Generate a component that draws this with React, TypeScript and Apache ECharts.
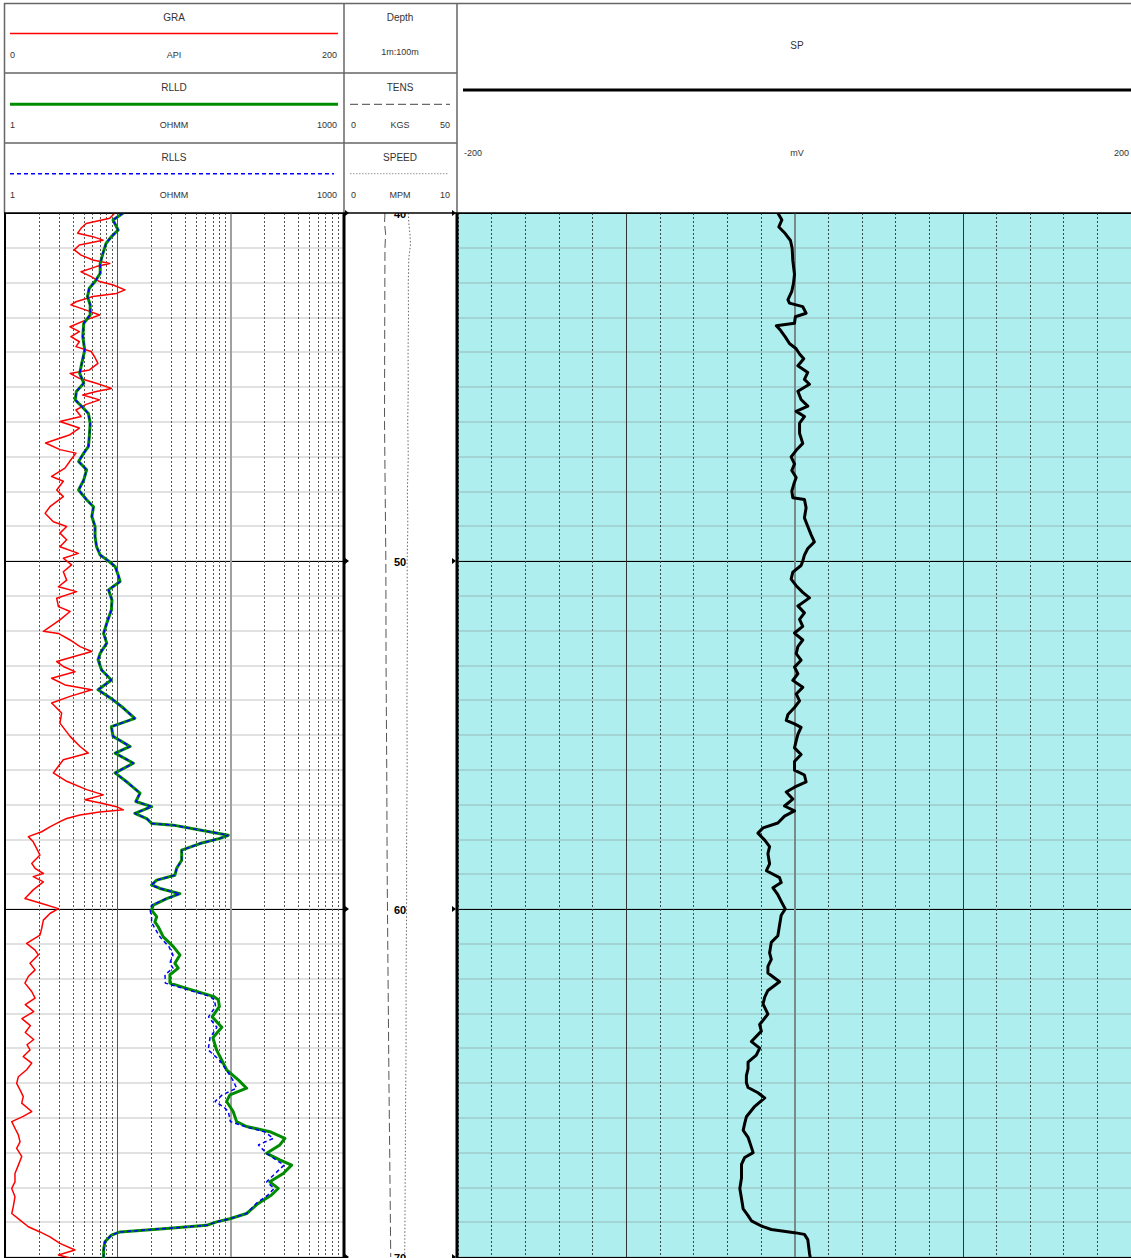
import React, { useEffect, useRef } from 'react';
import * as echarts from 'echarts';

// ---------- data (depth in m, value) ----------
const DEPTH_MIN = 40;
const DEPTH_MAX = 70;
const DEPTH_TICKS = [40, 50, 60, 70];

const GRA_LOG: number[][] = [
  [40.0, 65], [40.15, 62], [40.3, 48], [40.44, 45], [40.58, 43], [40.68, 52], [40.78, 58], [40.92, 44],
  [41.06, 41], [41.21, 45], [41.35, 52], [41.45, 62], [41.54, 54], [41.69, 45], [41.83, 51], [41.97, 56],
  [42.07, 64], [42.21, 71], [42.31, 66], [42.4, 52], [42.55, 42], [42.64, 39], [42.79, 48], [42.93, 56],
  [43.07, 48], [43.27, 38.5], [43.41, 44], [43.55, 39], [43.7, 44], [43.84, 42], [43.98, 51], [44.13, 53],
  [44.32, 55], [44.51, 50], [44.61, 38.5], [44.75, 44], [44.89, 54], [45.04, 63], [45.13, 54], [45.23, 46],
  [45.37, 56], [45.5, 48], [45.66, 42], [45.85, 45], [45.99, 32.5], [46.18, 44], [46.37, 38.5], [46.61, 24],
  [46.8, 32.5], [46.9, 42], [47.09, 39], [47.33, 35.5], [47.57, 27.6], [47.71, 34.5], [47.96, 30.6], [48.15, 34.5],
  [48.44, 26.6], [48.63, 23.7], [48.87, 28.6], [49.01, 36.5], [49.2, 32.5], [49.39, 36.5], [49.59, 32.5], [49.78, 43.4],
  [49.92, 34.5], [50.11, 39.4], [50.31, 34.5], [50.55, 36.5], [50.74, 31.6], [50.88, 42.4], [51.07, 30.6], [51.31, 31.6],
  [51.45, 38.5], [51.69, 32.5], [52.02, 22.7], [52.08, 31.6], [52.27, 38.5], [52.46, 44.4], [52.6, 51.3], [52.75, 40.4],
  [52.89, 30.6], [53.03, 34.5], [53.18, 41.4], [53.37, 27.6], [53.56, 35.5], [53.7, 51.3], [53.89, 38.5], [54.08, 27.6],
  [54.37, 33.5], [54.66, 32.5], [55.04, 38.5], [55.33, 44.4], [55.52, 49.3], [55.71, 34.5], [55.9, 31.6], [56.09, 28.6],
  [56.33, 36.5], [56.57, 48.3], [56.72, 58.2], [56.86, 47.3], [56.97, 58], [57.06, 66], [57.15, 70], [57.21, 56],
  [57.3, 44.4], [57.4, 36.5], [57.49, 32.5], [57.64, 26.6], [57.78, 21.7], [57.92, 13.8], [58.07, 16.7], [58.26, 18.7],
  [58.45, 20.7], [58.69, 15.8], [58.83, 17.8], [58.98, 22.7], [59.07, 16.7], [59.22, 22.7], [59.45, 16.7], [59.7, 11.8],
  [59.84, 21.7], [59.99, 31.6], [60.13, 26.6], [60.32, 22.7], [60.56, 21.7], [60.75, 20.7], [60.99, 12.8], [61.18, 17.8],
  [61.32, 19.7], [61.56, 14.8], [61.75, 17.8], [61.94, 13.8], [62.13, 11.8], [62.37, 15.8], [62.56, 17.8], [62.75, 12],
  [62.95, 17], [63.15, 10], [63.35, 15], [63.55, 12], [63.75, 17], [63.9, 13], [64.05, 14.8], [64.24, 10.8],
  [64.43, 15.8], [64.62, 12.8], [64.82, 7.9], [65.01, 6.9], [65.2, 8.9], [65.39, 10.8], [65.58, 9.9], [65.82, 15.8],
  [65.96, 10.8], [66.11, 4.0], [66.3, 5.9], [66.49, 7.9], [66.69, 8.9], [66.88, 6.9], [67.11, 9.9], [67.36, 7.9],
  [67.6, 5.9], [67.84, 5.9], [68.03, 4.0], [68.27, 5.9], [68.55, 4.9], [68.75, 4.0], [68.94, 8.9], [69.13, 13.8],
  [69.28, 20.7], [69.42, 26.6], [69.61, 32.5], [69.8, 41.4], [69.94, 31.6], [70.03, 38.5],
];

const RLLD_LOG: number[][] = [
  [40.0, 11.2], [40.2, 9.1], [40.49, 10.1], [40.68, 8.8], [40.87, 7.9], [41.16, 7.4], [41.45, 7.0], [41.73, 7.0],
  [41.97, 6.3], [42.16, 5.6], [42.4, 5.4], [42.64, 5.7], [42.93, 5.7], [43.17, 5.0], [43.55, 4.9], [43.94, 5.1],
  [44.32, 4.8], [44.61, 4.6], [44.89, 5.0], [45.13, 4.3], [45.37, 4.2], [45.56, 4.8], [45.76, 5.5], [46.04, 5.7],
  [46.43, 5.6], [46.71, 5.5], [46.9, 5.0], [47.14, 4.5], [47.38, 5.3], [47.67, 5.0], [47.96, 4.5], [48.24, 5.3],
  [48.44, 6.1], [48.72, 5.9], [49.01, 6.3], [49.3, 6.3], [49.59, 6.5], [49.83, 7.0], [50.0, 8.3], [50.16, 9.5],
  [50.4, 10.1], [50.59, 10.5], [50.83, 8.3], [51.12, 8.9], [51.4, 8.8], [51.79, 8.0], [52.08, 7.5], [52.36, 8.0],
  [52.65, 7.0], [52.84, 6.7], [53.13, 7.2], [53.42, 8.8], [53.7, 6.7], [53.99, 9.1], [54.18, 10.8], [54.52, 14.2],
  [54.76, 8.8], [55.04, 9.1], [55.33, 12.9], [55.52, 9.5], [55.81, 13.8], [56.09, 9.5], [56.38, 12.4], [56.67, 15.8],
  [56.91, 14.5], [57.06, 20.0], [57.25, 14.2], [57.4, 18.1], [57.54, 20.0], [57.59, 31.2], [57.73, 53.7], [57.88, 95.9],
  [57.97, 80.9], [58.12, 53.7], [58.31, 37.0], [58.6, 37.0], [58.83, 33.4], [59.03, 32.2], [59.17, 22.2], [59.31, 20.0],
  [59.41, 23.7], [59.56, 35.7], [59.7, 27.2], [59.89, 20.7], [60.03, 20.0], [60.22, 22.2], [60.37, 21.4], [60.51, 22.9],
  [60.8, 25.4], [61.08, 31.2], [61.32, 35.7], [61.56, 32.2], [61.7, 34.5], [61.89, 29.1], [62.13, 29.1], [62.28, 40.9],
  [62.51, 70.6], [62.61, 78.2], [62.8, 80], [63.1, 69], [63.4, 84], [63.7, 70], [64.05, 75.5], [64.34, 83.7],
  [64.62, 92.7], [64.91, 117.6], [65.15, 139.5], [65.34, 99.2], [65.53, 92.7], [65.82, 106], [66.11, 113.7], [66.25, 139.5],
  [66.4, 224], [66.59, 305], [66.78, 275], [67.02, 210], [67.21, 275], [67.36, 350], [67.6, 295], [67.84, 224],
  [68.03, 266], [68.22, 232], [68.46, 177], [68.75, 139.5], [68.9, 99.2], [68.99, 75.5], [69.09, 61.6], [69.18, 27.2],
  [69.28, 10.5], [69.37, 8.8], [69.56, 7.7], [69.8, 7.5], [70.03, 7.5],
];

const RLLS_LOG: number[][] = [
  [40.0, 11.2], [40.2, 9.1], [40.49, 10.1], [40.68, 8.8], [40.87, 7.9], [41.16, 7.4], [41.45, 7.0], [41.73, 7.0],
  [41.97, 6.3], [42.16, 5.6], [42.4, 5.4], [42.64, 5.7], [42.93, 5.7], [43.17, 5.0], [43.55, 4.9], [43.94, 5.1],
  [44.32, 4.8], [44.61, 4.6], [44.89, 5.0], [45.13, 4.3], [45.37, 4.2], [45.56, 4.8], [45.76, 5.5], [46.04, 5.7],
  [46.43, 5.6], [46.71, 5.5], [46.9, 5.0], [47.14, 4.5], [47.38, 5.3], [47.67, 5.0], [47.96, 4.5], [48.24, 5.3],
  [48.44, 6.1], [48.72, 5.9], [49.01, 6.3], [49.3, 6.3], [49.59, 6.5], [49.83, 7.0], [50.0, 8.3], [50.16, 9.5],
  [50.4, 10.1], [50.59, 10.5], [50.83, 8.3], [51.12, 8.9], [51.4, 8.8], [51.79, 8.0], [52.08, 7.5], [52.36, 8.0],
  [52.65, 7.0], [52.84, 6.7], [53.13, 7.2], [53.42, 8.8], [53.7, 6.7], [53.99, 9.1], [54.18, 10.8], [54.52, 14.2],
  [54.76, 8.8], [55.04, 9.1], [55.33, 12.9], [55.52, 9.5], [55.81, 13.8], [56.09, 9.5], [56.38, 12.4], [56.67, 15.8],
  [56.91, 14.5], [57.06, 20.0], [57.25, 14.2], [57.4, 18.1], [57.54, 20.0], [57.59, 31.2], [57.73, 53.7], [57.88, 95.9],
  [57.97, 80.9], [58.12, 53.7], [58.31, 37.0], [58.6, 37.0], [58.83, 33.4], [59.03, 32.2], [59.17, 22.2], [59.31, 20.0],
  [59.41, 23.7], [59.56, 35.7], [59.7, 27.2], [59.89, 20.0], [60.03, 19.4], [60.22, 20.0], [60.37, 20.0], [60.51, 21.0],
  [60.8, 23.7], [61.08, 28.5], [61.32, 31.0], [61.56, 29.0], [61.7, 31.0], [61.89, 26.3], [62.13, 26.5], [62.28, 38],
  [62.51, 66], [62.61, 72], [62.8, 74], [63.1, 64], [63.4, 76], [63.7, 66], [64.05, 63.6], [64.34, 80],
  [64.62, 92], [64.91, 105], [65.15, 113.7], [65.34, 85], [65.53, 73], [65.7, 88], [65.82, 96], [66.11, 100],
  [66.25, 135], [66.4, 200], [66.59, 241], [66.78, 177], [67.02, 210], [67.21, 255], [67.36, 300], [67.6, 250],
  [67.84, 210], [68.03, 245], [68.22, 215], [68.46, 170], [68.75, 139.5], [68.9, 99.2], [68.99, 75.5], [69.09, 61.6],
  [69.18, 27.2], [69.28, 10.5], [69.37, 8.8], [69.56, 7.7], [69.8, 7.5], [70.03, 7.5],
];

const SP_LOG: number[][] = [
  [40.0, -9.9], [40.2, -7.5], [40.4, -9.3], [40.59, -5.5], [40.79, -2.4], [41.01, -1.4], [41.37, -1.0], [41.76, 0],
  [42.02, -0.6], [42.25, -1.6], [42.49, -3.9], [42.59, -3.0], [42.69, 4.9], [42.88, 6.9], [42.98, 0.5], [43.17, 0],
  [43.24, -10.8], [43.37, -8.3], [43.56, -5.5], [43.75, -3.0], [43.9, 1.0], [44.05, 3.0], [44.19, 5.5], [44.39, 2.0],
  [44.58, 7.9], [44.78, 5.9], [44.92, 8.9], [45.12, 2.0], [45.36, 3.9], [45.55, 7.9], [45.7, 1.0], [45.85, 5.9],
  [46.04, 3.0], [46.33, 3.0], [46.62, 4.9], [46.82, 1.0], [47.01, -2.0], [47.21, 0], [47.4, -1.6], [47.6, 1.0],
  [47.79, -0.4], [47.99, -1.6], [48.18, -1.0], [48.23, 5.9], [48.47, 6.9], [48.76, 5.9], [49.01, 7.9], [49.25, 9.9],
  [49.45, 11.8], [49.64, 7.9], [49.83, 5.9], [50.0, 4.9], [50.13, 3.9], [50.32, -1.0], [50.52, -2.0], [50.71, 1.0],
  [50.9, 4.9], [51.06, 8.9], [51.29, 2.0], [51.49, 5.9], [51.68, 3.0], [51.88, 4.9], [52.07, 0], [52.27, 4.9],
  [52.46, 2.0], [52.66, 1.0], [52.85, 3.9], [53.05, 0], [53.24, 2.0], [53.43, -1.0], [53.63, 4.9], [53.82, 1.0],
  [54.02, 3.0], [54.21, 0], [54.41, -3.9], [54.58, -4.9], [54.68, 0], [54.78, 3.9], [54.98, 2.0], [55.17, 1.0],
  [55.37, 0], [55.56, 3.9], [55.76, 0], [56.01, 0], [56.15, 5.9], [56.35, 6.9], [56.5, 0], [56.64, -4.9],
  [56.84, -1.0], [57.04, -5.9], [57.18, 0], [57.33, -5.9], [57.53, -9.9], [57.67, -18.7], [57.82, -21.7], [58.02, -17.7],
  [58.21, -14.8], [58.41, -15.8], [58.7, -14.8], [58.9, -16.7], [59.1, -8.9], [59.24, -7.9], [59.39, -12.8], [59.59, -9.9],
  [59.78, -7.9], [60.0, -5.5], [60.18, -7.9], [60.47, -8.9], [60.77, -9.9], [60.96, -13.8], [61.26, -14.8], [61.45, -13.8],
  [61.65, -15.8], [61.84, -15.8], [62.09, -8.9], [62.34, -15.8], [62.53, -17.7], [62.73, -18.7], [63.02, -15.8], [63.32, -20.7],
  [63.51, -19.7], [63.81, -25.6], [64.0, -20.7], [64.2, -22.7], [64.4, -27.6], [64.59, -27.6], [64.79, -28.6], [64.99, -28.6],
  [65.13, -27.6], [65.28, -21.7], [65.43, -17.7], [65.67, -23.6], [65.97, -28.6], [66.16, -29.6], [66.36, -30.5], [66.56, -27.6],
  [66.85, -25.6], [67.0, -24.6], [67.14, -29.6], [67.34, -31.5], [67.73, -31.5], [68.03, -32.5], [68.32, -31.5], [68.62, -30.5],
  [68.81, -27.6], [68.96, -25.6], [69.11, -19.7], [69.21, -13.8], [69.3, 0], [69.35, 5.9], [69.5, 7.9], [69.89, 8.9],
  [70.05, 9.5],
];

const TENS_LOG: number[][] = [
  [40.0, 18.0], [40.3, 17.8], [40.6, 18.3], [41.0, 18.0], [43.0, 17.9], [46.0, 17.8], [50.0, 18.4], [53.0, 18.5],
  [56.0, 18.8], [59.0, 19.0], [62.0, 19.4], [65.0, 19.8], [68.0, 20.3], [70.0, 20.6],
];

const SPEED_LOG: number[][] = [
  [40.0, 5.7], [40.3, 5.75], [40.6, 5.85], [40.9, 5.9], [41.3, 5.75], [42.0, 5.7], [43.0, 5.72], [44.0, 5.68],
  [45.0, 5.7], [46.0, 5.65], [47.0, 5.7], [48.0, 5.62], [49.0, 5.66], [50.0, 5.6], [52.0, 5.62], [54.0, 5.58],
  [56.0, 5.6], [58.0, 5.55], [60.0, 5.55], [62.0, 5.5], [64.0, 5.5], [66.0, 5.45], [68.0, 5.42], [70.0, 5.38],
];

const LOG_MINOR = [2, 3, 4, 5, 6, 7, 8, 9, 20, 30, 40, 50, 60, 70, 80, 90, 200, 300, 400, 500, 600, 700, 800, 900];
const SP_SOLID = [-100, 100];

// ---------- layout ----------
const W = 1131;
const H = 1258;
const TOP = 213;
const PLOT_H = 1044;
const FONT = '"Liberation Sans", Arial, sans-serif';

const toXY = (arr: number[][]) => arr.map(([d, v]) => [v, d]);

function txt(text: string, x: number, y: number, size: number, align: string, color = '#333', weight = 'normal', z = 102) {
  return {
    type: 'text',
    z,
    style: { text, x, y, fill: color, fontSize: size, fontFamily: FONT, fontWeight: weight, align, verticalAlign: 'middle' },
  };
}
function seg(x1: number, y1: number, x2: number, y2: number, stroke: string, lineWidth: number, lineDash?: number[], z = 102) {
  return {
    type: 'line',
    z,
    shape: { x1, y1, x2, y2 },
    style: { stroke, lineWidth, lineDash: lineDash || null },
  };
}

function buildOption() {
  const pxPerM = PLOT_H / (DEPTH_MAX - DEPTH_MIN);
  const yOf = (d: number) => TOP + (d - DEPTH_MIN) * pxPerM;
  const markers: any[] = [];
  DEPTH_TICKS.forEach((d) => {
    const y = yOf(d);
    markers.push({ type: 'polygon', z: 103, shape: { points: [[345, y - 3], [349, y], [345, y + 3]] }, style: { fill: '#000' } });
    markers.push({ type: 'polygon', z: 103, shape: { points: [[452, y - 3], [456, y], [452, y + 3]] }, style: { fill: '#000' } });
    markers.push(txt(String(d), 400, y + 0.5, 11, 'center', '#000', 'bold', 50));
  });

  const hiddenAxis = { axisLine: { show: false }, axisTick: { show: false }, axisLabel: { show: false } };
  const depthAxis = (gridIndex: number, interval: number, color: string, width: number, show: boolean) => ({
    type: 'value', gridIndex, inverse: true, min: DEPTH_MIN, max: DEPTH_MAX, interval,
    ...hiddenAxis,
    splitLine: { show, lineStyle: { color, width, type: 'solid' } },
  });

  return {
    animation: false,
    backgroundColor: '#fff',
    grid: [
      { left: 5, top: TOP, width: 338, height: PLOT_H, show: false },
      { left: 345, top: TOP, width: 111, height: PLOT_H, show: false },
      { left: 458, top: TOP, width: 678, height: PLOT_H, show: true, backgroundColor: '#AFEEEE', borderWidth: 0 },
    ],
    xAxis: [
      { type: 'log', gridIndex: 0, min: 1, max: 1000, logBase: 10, show: false },
      { type: 'value', gridIndex: 0, min: 0, max: 200, show: false },
      { type: 'value', gridIndex: 1, min: 0, max: 50, show: false },
      { type: 'value', gridIndex: 1, min: 0, max: 10, show: false },
      {
        type: 'value', gridIndex: 2, min: -200, max: 200, interval: 20, position: 'top',
        ...hiddenAxis,
        splitLine: { show: true, lineStyle: { color: '#3a4a4a', width: 1, type: [2, 2] } },
      },
    ],
    yAxis: [
      depthAxis(0, 1, 'rgba(120,120,120,0.3)', 1.5, true),
      depthAxis(0, 10, '#000', 1, true),
      depthAxis(1, 10, '#000', 1, false),
      depthAxis(2, 1, 'rgba(120,120,120,0.3)', 1.5, true),
      depthAxis(2, 10, '#000', 1, true),
    ],
    series: [
      {
        type: 'line', xAxisIndex: 0, yAxisIndex: 0, data: [], z: 1, silent: true,
        markLine: {
          silent: true, symbol: ['none', 'none'], label: { show: false }, z: 1, animation: false,
          data: [
            ...LOG_MINOR.map((v) => ({ xAxis: v, lineStyle: { color: '#555', width: 1, type: [2, 2] } })),
            { xAxis: 10, lineStyle: { color: '#555', width: 1, type: 'solid' } },
            { xAxis: 100, lineStyle: { color: '#a0a0a0', width: 2, type: 'solid' } },
          ],
        },
      },
      {
        type: 'line', xAxisIndex: 4, yAxisIndex: 3, data: [], z: 1, silent: true,
        markLine: {
          silent: true, symbol: ['none', 'none'], label: { show: false }, z: 1, animation: false,
          data: [
            ...SP_SOLID.map((v) => ({ xAxis: v, lineStyle: { color: '#333', width: 1, type: 'solid' } })),
            { xAxis: 0, lineStyle: { color: '#7a8a8a', width: 2, type: 'solid' } },
          ],
        },
      },
      {
        name: 'GRA', type: 'line', xAxisIndex: 1, yAxisIndex: 0, data: toXY(GRA_LOG), symbol: 'none', z: 3,
        lineStyle: { color: '#ff0000', width: 1.5, join: 'round' },
      },
      {
        name: 'RLLD', type: 'line', xAxisIndex: 0, yAxisIndex: 0, data: toXY(RLLD_LOG), symbol: 'none', z: 4,
        lineStyle: { color: '#008c00', width: 3, join: 'round', cap: 'round' },
      },
      {
        name: 'RLLS', type: 'line', xAxisIndex: 0, yAxisIndex: 0, data: toXY(RLLS_LOG), symbol: 'none', z: 5,
        lineStyle: { color: '#0000ff', width: 1.5, type: [4, 3] },
      },
      {
        name: 'TENS', type: 'line', xAxisIndex: 2, yAxisIndex: 2, data: toXY(TENS_LOG), symbol: 'none', z: 3,
        lineStyle: { color: '#555', width: 1, type: [9, 4] },
      },
      {
        name: 'SPEED', type: 'line', xAxisIndex: 3, yAxisIndex: 2, data: toXY(SPEED_LOG), symbol: 'none', z: 3,
        lineStyle: { color: '#666', width: 1, type: [1.5, 2] },
      },
      {
        name: 'SP', type: 'line', xAxisIndex: 4, yAxisIndex: 3, data: toXY(SP_LOG), symbol: 'none', z: 4,
        lineStyle: { color: '#000', width: 3, join: 'round', cap: 'round' },
      },
    ],
    graphic: {
      elements: [
        ...markers,
        { type: 'rect', z: 100, shape: { x: 0, y: 0, width: W, height: TOP }, style: { fill: '#fff' } },
        // header frame
        seg(4, 3.5, W, 3.5, '#666', 1.5),
        seg(4.5, 3, 4.5, TOP, '#666', 1.5),
        seg(344, 3, 344, TOP, '#666', 1.5),
        seg(457, 3, 457, TOP, '#666', 1.5),
        seg(4, 73, 457, 73, '#666', 1.5),
        seg(4, 143, 457, 143, '#666', 1.5),
        // track borders
        seg(4, TOP, W, TOP, '#000', 1.5),
        seg(5, TOP, 5, H, '#000', 2),
        seg(344, TOP, 344, H, '#000', 3),
        seg(457, TOP, 457, H, '#000', 3),
        // GRA header
        txt('GRA', 174, 17, 10, 'center'),
        seg(10, 33.5, 338, 33.5, '#ff0000', 1.5),
        txt('0', 10, 55, 9, 'left'),
        txt('API', 174, 55, 9, 'center'),
        txt('200', 337, 55, 9, 'right'),
        // RLLD header
        txt('RLLD', 174, 87, 10, 'center'),
        seg(10, 104.3, 338, 104.3, '#008c00', 3),
        txt('1', 10, 125, 9, 'left'),
        txt('OHMM', 174, 125, 9, 'center'),
        txt('1000', 337, 125, 9, 'right'),
        // RLLS header
        txt('RLLS', 174, 157, 10, 'center'),
        seg(10, 173.7, 334, 173.7, '#0000ff', 1.5, [4, 3]),
        txt('1', 10, 195, 9, 'left'),
        txt('OHMM', 174, 195, 9, 'center'),
        txt('1000', 337, 195, 9, 'right'),
        // Depth header
        txt('Depth', 400, 17, 10, 'center'),
        txt('1m:100m', 400, 52, 9, 'center'),
        txt('TENS', 400, 87, 10, 'center'),
        seg(350, 104.3, 450, 104.3, '#444', 1, [8, 4]),
        txt('0', 351, 125, 9, 'left'),
        txt('KGS', 400, 125, 9, 'center'),
        txt('50', 450, 125, 9, 'right'),
        txt('SPEED', 400, 157, 10, 'center'),
        seg(350, 173.7, 449, 173.7, '#999', 1, [1.5, 1.5]),
        txt('0', 351, 195, 9, 'left'),
        txt('MPM', 400, 195, 9, 'center'),
        txt('10', 450, 195, 9, 'right'),
        // SP header
        txt('SP', 797, 45, 10, 'center'),
        seg(463, 90, W, 90, '#000', 3),
        txt('-200', 464, 153, 9, 'left'),
        txt('mV', 797, 153, 9, 'center'),
        txt('200', 1129, 153, 9, 'right'),
      ],
    },
  };
}

export default function App() {
  const ref = useRef<HTMLDivElement>(null);
  useEffect(() => {
    if (!ref.current) return;
    const chart = echarts.init(ref.current, null, { renderer: 'svg' });
    chart.setOption(buildOption() as any);
    return () => chart.dispose();
  }, []);
  return (
    <div
      ref={ref}
      style={{ position: 'absolute', left: 0, top: 0, width: W, height: H, overflow: 'hidden', background: '#fff' }}
    />
  );
}
